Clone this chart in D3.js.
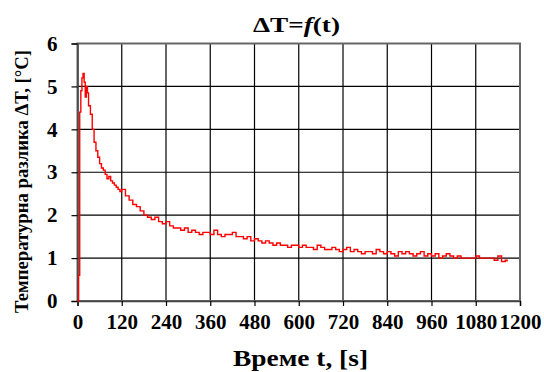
<!DOCTYPE html>
<html>
<head>
<meta charset="utf-8">
<script src="https://cdn.jsdelivr.net/npm/d3@7"></script>
<style>
  html, body { margin: 0; padding: 0; background: #fff; }
  svg text { font-family: "Liberation Serif", "Times New Roman", serif !important; font-weight: bold; fill: #000; }
</style>
</head>
<body>
<svg id="chart" width="544" height="372"></svg>
<script>
const xTicks = [0, 120, 240, 360, 480, 600, 720, 840, 960, 1080, 1200];
const yTicks = [0, 1, 2, 3, 4, 5, 6];

const times = [0,3,6,9,12,15,18,21,24,27,30,35,40,45,50,55,60,65,70,75,80,85,90,95,100,105,110,115,120,
  130,140,150,160,170,180,190,200,210,220,230,240,250,260,270,280,290,300,310,320,330,340,350,360,370,380,390,
  400,410,420,430,440,450,460,470,480,490,500,510,520,530,540,550,560,570,580,590,600,610,620,630,640,650,660,
  670,680,690,700,710,720,730,740,750,760,770,780,790,800,810,820,830,840,850,860,870,880,890,900,910,920,930,
  940,950,960,970,980,990,1000,1010,1020,1030,1040,1050,1060,1070,1080,1090,1100,1110,1120,1130,1140,1150,1160,1165];

const deltaT = [0,0.6,4.4,4.9,5.2,5.3,5.1,4.75,5.0,4.85,4.55,4.35,4.0,3.7,3.5,3.35,3.2,3.1,3.05,2.95,2.85,2.9,2.8,2.75,2.7,2.65,2.6,2.55,2.6,
  2.45,2.35,2.25,2.2,2.1,2.0,1.95,1.9,1.95,1.85,1.8,1.85,1.75,1.7,1.7,1.65,1.7,1.6,1.65,1.6,1.55,1.6,1.6,1.55,1.65,1.55,1.5,
  1.55,1.55,1.6,1.5,1.5,1.45,1.5,1.4,1.45,1.4,1.35,1.4,1.35,1.3,1.35,1.3,1.3,1.25,1.3,1.3,1.25,1.3,1.25,1.25,1.2,1.3,1.25,
  1.2,1.2,1.25,1.2,1.15,1.2,1.25,1.15,1.2,1.15,1.1,1.15,1.15,1.1,1.2,1.15,1.1,1.15,1.1,1.05,1.15,1.1,1.15,1.1,1.05,1.1,1.15,
  1.05,1.1,1.05,1.1,1.0,1.05,1.1,1.05,1.0,1.05,1.0,1.0,1.0,1.0,1.05,1.0,1.0,1.0,1.0,0.95,1.05,0.92,0.95,0.92];

const titleText = "ΔT=";
const xTitle = "Време t, [s]";
const yTitle = "Температурна разлика ΔT, [°C]";

const svg = d3.select("#chart");
const m = { left: 77.5, right: 520, top: 43.5, bottom: 301 };

const x = d3.scaleLinear().domain([0, 1200]).range([m.left, m.right]);
const y = d3.scaleLinear().domain([0, 6]).range([m.bottom, m.top]);

// grid
const grid = svg.append("g");
grid.selectAll(".vg").data(xTicks.slice(1, -1)).enter().append("line")
  .attr("x1", d => x(d)).attr("x2", d => x(d))
  .attr("y1", m.top).attr("y2", m.bottom)
  .attr("stroke", "#000").attr("stroke-width", 1.2);
grid.selectAll(".hg").data(yTicks.slice(1, -1)).enter().append("line")
  .attr("x1", m.left).attr("x2", m.right)
  .attr("y1", d => y(d)).attr("y2", d => y(d))
  .attr("stroke", "#000").attr("stroke-width", 1.2);

// frame
svg.append("rect").attr("x", m.left).attr("y", m.top)
  .attr("width", m.right - m.left).attr("height", m.bottom - m.top)
  .attr("fill", "none").attr("stroke", "#666").attr("stroke-width", 2);

// axes
const xAxis = d3.axisBottom(x).tickValues(xTicks).tickSize(5).tickPadding(8).tickFormat(d3.format("d"));
const gx = svg.append("g").attr("transform", `translate(0,${m.bottom})`).call(xAxis);
gx.attr("font-family", null).attr("font-size", null);
gx.select(".domain").attr("stroke", "#444").attr("stroke-width", 1.5);
gx.selectAll(".tick line").attr("stroke", "#000").attr("stroke-width", 1.2);
gx.selectAll("text").attr("font-size", 21).style("font-size", "21px");

const yAxis = d3.axisLeft(y).tickValues(yTicks).tickSize(6).tickPadding(14).tickFormat(d3.format("d"));
const gy = svg.append("g").attr("transform", `translate(${m.left},0)`).call(yAxis);
gy.attr("font-family", null).attr("font-size", null);
gy.select(".domain").attr("stroke", "#444").attr("stroke-width", 1.5);
gy.selectAll(".tick line").attr("stroke", "#000").attr("stroke-width", 1.2);
gy.selectAll("text").attr("font-size", 21).style("font-size", "21px");

// data line
const pts = times.map((t, i) => [t, deltaT[i]]);
const line = d3.line().x(d => x(d[0])).y(d => y(d[1])).curve(d3.curveStepAfter);
svg.append("path").datum(pts).attr("d", line)
  .attr("fill", "none").attr("stroke", "#ff0000").attr("stroke-width", 1.4);

// title
const title = svg.append("text").attr("x", 296.5).attr("y", 32).attr("text-anchor", "middle")
  .style("font-size", "21px").attr("textLength", 87).attr("lengthAdjust", "spacingAndGlyphs");
title.append("tspan").text(titleText);
title.append("tspan").attr("font-style", "italic").text("f");
title.append("tspan").text("(t)");

// x title
svg.append("text").attr("x", 300.5).attr("y", 366).attr("text-anchor", "middle")
  .style("font-size", "24px").attr("textLength", 135).attr("lengthAdjust", "spacingAndGlyphs").text(xTitle);

// y title
svg.append("text").attr("transform", "translate(27.5,181.5) rotate(-90)").attr("text-anchor", "middle")
  .style("font-size", "18.5px").attr("textLength", 263).attr("lengthAdjust", "spacingAndGlyphs").text(yTitle);
</script>
</body>
</html>
